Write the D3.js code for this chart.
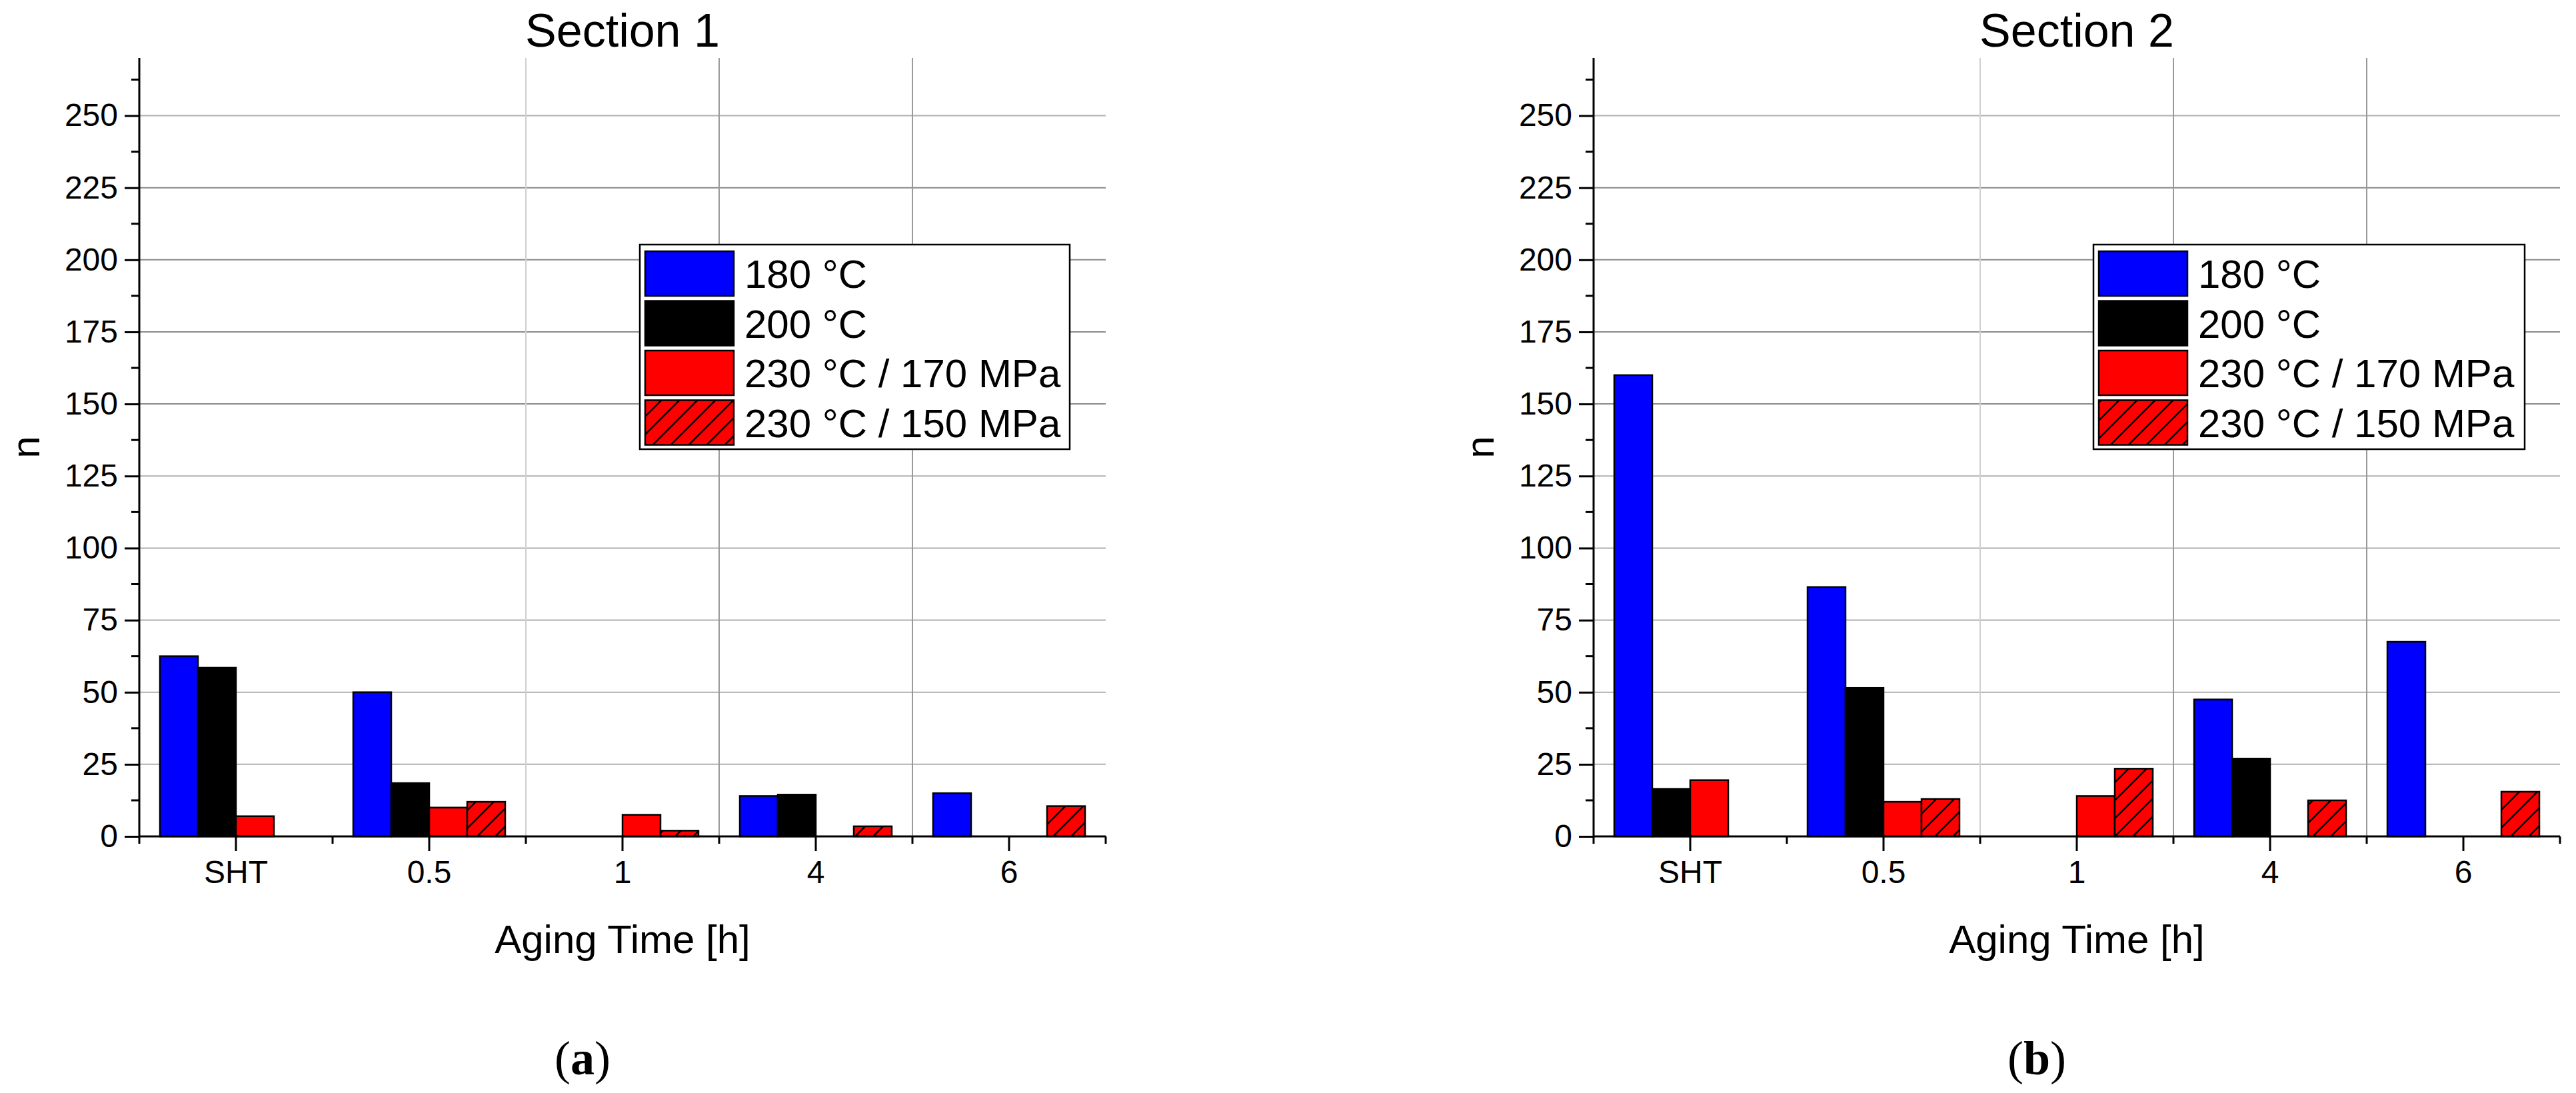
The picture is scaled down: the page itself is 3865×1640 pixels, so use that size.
<!DOCTYPE html>
<html><head><meta charset="utf-8">
<script src="https://cdn.jsdelivr.net/npm/d3@7"></script>
<style>body{margin:0;background:#fff}svg{display:block}</style>
</head><body>
<svg id="c" width="3865" height="1640"></svg>
<script>
const categories = ["SHT","0.5","1","4","6"];
const seriesNames = ["180 °C","200 °C","230 °C / 170 MPa","230 °C / 150 MPa"];
const section1 = [
  [62.5, 50, 0, 14, 15],
  [58.5, 18.5, 0, 14.5, 0],
  [7, 10, 7.5, 0, 0],
  [0, 12, 2, 3.5, 10.5]
];
const section2 = [
  [160, 86.5, 0, 47.5, 67.5],
  [16.5, 51.5, 0, 27, 0],
  [19.5, 12, 14, 0, 0],
  [0, 13, 23.5, 12.5, 15.5]
];
const yTicks = [0,25,50,75,100,125,150,175,200,225,250];
const titles = ["Section 1","Section 2"];
const panelLabels = ["a","b"];

const svg = d3.select("#c");
const defs = svg.append("defs");
const pat = defs.append("pattern").attr("id","hatch").attr("patternUnits","userSpaceOnUse")
  .attr("width",27).attr("height",27);
pat.append("rect").attr("width",27).attr("height",27).attr("fill","#ff0000");
pat.append("path").attr("d","M-7,34 L34,-7 M-7,7 L7,-7 M20,34 L34,20").attr("stroke","#000").attr("stroke-width",2.5);
const fills = ["#0000ff","#000000","#ff0000","url(#hatch)"];
const font = "Arial, 'Liberation Sans', sans-serif";

function panel(p, x0, data, title, lab, legX, legW) {
  const left = x0, right = x0 + 1450, top = 87, bottom = 1255;
  const y = d3.scaleLinear().domain([0,270]).range([bottom, top]);
  const x = d3.scaleBand().domain(categories).range([left,right]).padding(0);
  const inner = d3.scaleBand().domain(d3.range(4)).range([0,228]);
  const g = svg.append("g");
  // grid
  yTicks.filter(v=>v>0).forEach(v=>{
    g.append("line").attr("x1",left).attr("x2",right).attr("y1",y(v)).attr("y2",y(v))
      .attr("stroke", v>=150 && v<=225 ? "#8a8a8a" : "#b0b0b0").attr("stroke-width",2);
  });
  [2,3,4].forEach(k=>{
    const xx = left + x.step()*k;
    g.append("line").attr("x1",xx).attr("x2",xx).attr("y1",top).attr("y2",bottom)
      .attr("stroke", k===2 ? "#d0d0d0" : "#9a9a9a").attr("stroke-width",2);
  });
  // bars
  data.forEach((vals,si)=>{
    g.selectAll(null).data(vals.map((v,i)=>({v,c:categories[i]})).filter(d=>d.v>0)).enter().append("rect")
      .attr("x",d=>x(d.c)+x.bandwidth()/2-114+inner(si))
      .attr("width",inner.bandwidth())
      .attr("y",d=>y(d.v)).attr("height",d=>bottom-y(d.v))
      .attr("fill",fills[si]).attr("stroke","#000").attr("stroke-width",2.5);
  });
  // y axis
  const ya = d3.axisLeft(y).tickValues(yTicks).tickSize(22).tickPadding(10);
  const yg = g.append("g").attr("transform",`translate(${left},0)`).call(ya);
  yg.select(".domain").attr("d",`M0,${bottom}V${top}`).attr("stroke-width",3);
  yg.selectAll(".tick line").attr("stroke-width",3);
  yg.selectAll("text").attr("font-size",48).attr("font-family",font).attr("fill","#000");
  d3.range(12.5,270,25).forEach(v=>{
    g.append("line").attr("x1",left-12).attr("x2",left).attr("y1",y(v)).attr("y2",y(v)).attr("stroke","#000").attr("stroke-width",3);
  });
  // x axis
  const xa = d3.axisBottom(x).tickSize(22).tickPadding(14);
  const xg = g.append("g").attr("transform",`translate(0,${bottom})`).call(xa);
  xg.select(".domain").attr("d",`M${left},0H${right}`).attr("stroke-width",3);
  xg.selectAll(".tick line").attr("stroke-width",3);
  xg.selectAll("text").attr("font-size",48).attr("font-family",font).attr("fill","#000");
  d3.range(6).forEach(k=>{
    const xx = left + x.step()*k;
    g.append("line").attr("x1",xx).attr("x2",xx).attr("y1",bottom).attr("y2",bottom+11).attr("stroke","#000").attr("stroke-width",3);
  });
  // titles
  g.append("text").attr("x",(left+right)/2).attr("y",70).attr("text-anchor","middle")
    .attr("font-size",70).attr("font-family",font).text(title);
  g.append("text").attr("x",(left+right)/2).attr("y",1430).attr("text-anchor","middle")
    .attr("font-size",60).attr("font-family",font).text("Aging Time [h]");
  g.append("text").attr("transform",`translate(${left-150},${y(135)}) rotate(-90)`).attr("text-anchor","middle")
    .attr("font-size",60).attr("font-family",font).text("n");
  const pl = g.append("text").attr("x",(left+right)/2-60).attr("y",1612).attr("text-anchor","middle")
    .attr("font-size",72).attr("font-family","'Liberation Serif', 'DejaVu Serif', serif");
  pl.append("tspan").text("(");
  pl.append("tspan").attr("font-weight","bold").text(lab);
  pl.append("tspan").text(")");
  // legend
  const lg = g.append("g");
  lg.append("rect").attr("x",legX).attr("y",367).attr("width",legW).attr("height",307)
    .attr("fill","#fff").attr("stroke","#000").attr("stroke-width",2.5);
  seriesNames.forEach((s,i)=>{
    const ry = 377 + i*74.5;
    lg.append("rect").attr("x",legX+8).attr("y",ry).attr("width",133).attr("height",67)
      .attr("fill",fills[i]).attr("stroke","#000").attr("stroke-width",2.5);
    lg.append("text").attr("x",legX+157).attr("y",ry+55).attr("font-size",60)
      .attr("font-family",font).text(s);
  });
}
panel(0, 209, section1, titles[0], panelLabels[0], 960, 645);
panel(1, 2391, section2, titles[1], panelLabels[1], 3141, 647);
</script>
</body></html>
